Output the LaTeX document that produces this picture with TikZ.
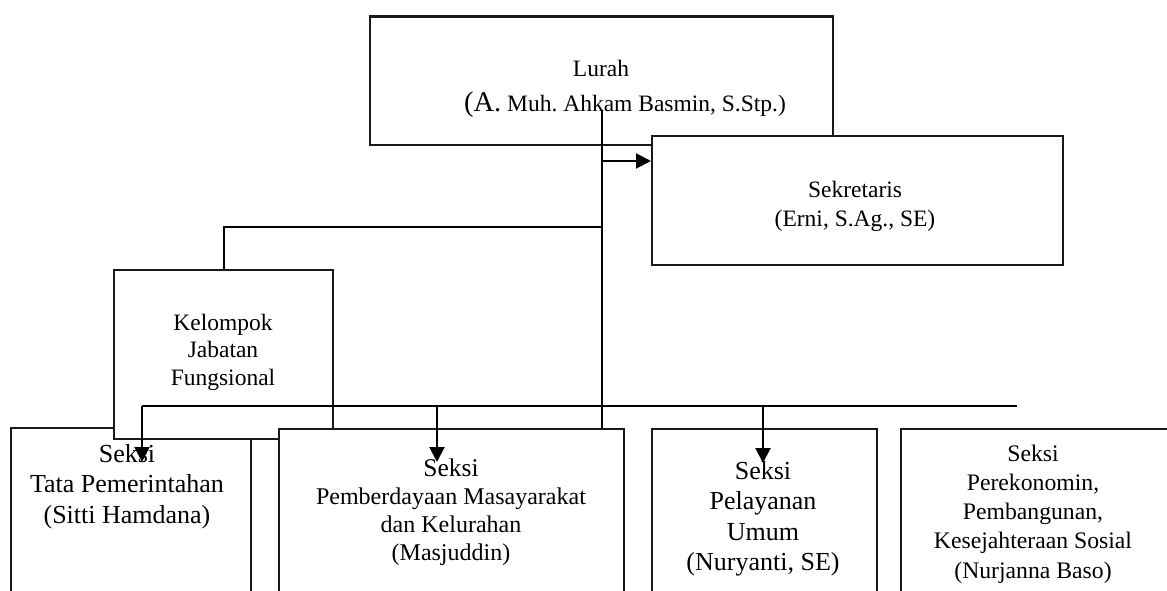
\documentclass[tikz,border=0pt]{standalone}
\usepackage{fontspec}
\setmainfont{Liberation Serif}
\usetikzlibrary{arrows.meta}
\frenchspacing
\newcommand\mlines[2]{\vtop{\baselineskip=#1\lineskiplimit=-100pt\lineskip=0pt\halign{\hfil##\hfil\cr#2\crcr}}}
\tikzset{
  box/.style={draw=black!90, line width=2.2pt, fill=white, inner sep=0pt, anchor=north west},
  conn/.style={line width=2pt, draw=black},
  arr/.style={conn, -{Triangle[length=15pt,width=15pt]}},
  txt/.style={anchor=base, inner sep=0pt}
}
\begin{document}
\begin{tikzpicture}[x=1pt,y=-1pt]
\useasboundingbox (0,0) rectangle (1167,591);
% boxes
\node[box, minimum width=240pt, minimum height=200pt] (tata) at (10,427) {};
\node[box, minimum width=219pt, minimum height=169pt] (kel) at (113,269) {};
\node[box, minimum width=345pt, minimum height=200pt] (pemb) at (278,428) {};
\node[box, minimum width=225pt, minimum height=200pt] (pel) at (651,428) {};
\node[box, minimum width=300pt, minimum height=200pt] (per) at (900,428) {};
\node[box, minimum width=463pt, minimum height=128.5pt] (lurah) at (369,15.5) {};
\node[box, minimum width=411pt, minimum height=129pt] (sek) at (651,135) {};
% texts
\node[txt, font=\fontsize{23.5}{23}\selectfont] (tlurah) at (601,77)
  {\mlines{35pt}{Lurah\cr \kern48pt{\fontsize{28.5}{28}\selectfont(A.} Muh. Ahkam Basmin, S.Stp.)}};
\node[txt, font=\fontsize{23.5}{23}\selectfont] (tsek) at (855,197)
  {\mlines{29pt}{Sekretaris\cr (Erni, S.Ag., SE)}};
\node[txt, font=\fontsize{23.5}{23}\selectfont] (tkel) at (223,330)
  {\mlines{27.5pt}{Kelompok\cr Jabatan\cr Fungsional}};
\node[txt, font=\fontsize{26}{26}\selectfont] (ttata) at (127,462)
  {\mlines{30.5pt}{Seksi\cr Tata Pemerintahan\cr (Sitti Hamdana)}};
\node[txt, font=\fontsize{24}{24}\selectfont] (tpemb) at (451,476)
  {\mlines{28pt}{{\fontsize{25.5}{25}\selectfont Seksi}\cr Pemberdayaan Masayarakat\cr dan Kelurahan\cr (Masjuddin)}};
\node[txt, font=\fontsize{26}{26}\selectfont] (tpel) at (763,479)
  {\mlines{30.5pt}{Seksi\cr Pelayanan\cr Umum\cr (Nuryanti, SE)}};
\node[txt, font=\fontsize{23.7}{23}\selectfont] (tper) at (1033,461)
  {\mlines{29.25pt}{Seksi\cr Perekonomin,\cr Pembangunan,\cr Kesejahteraan Sosial\cr (Nurjanna Baso)}};
% connectors
\coordinate (trunk) at (602,110);
\coordinate (jsek) at (602,161);
\coordinate (jkel) at (602,227);
\coordinate (busL) at (142,406);
\coordinate (busR) at (1017,406);
\coordinate (bpemb) at (437,406);
\coordinate (bpel) at (763,406);
\coordinate (etata) at (142,462);
\coordinate (epemb) at (437,462);
\coordinate (epel) at (763,463);
\draw[conn] (trunk) -- (trunk |- pemb.north);
\draw[arr] (jsek) -- (jsek -| sek.west);
\draw[conn] (jkel) -| (kel.north);
\draw[conn] (busL) -- (busR);
\draw[arr] (busL) -- (etata);
\draw[arr] (bpemb) -- (epemb);
\draw[arr] (bpel) -- (epel);
\end{tikzpicture}
\end{document}
